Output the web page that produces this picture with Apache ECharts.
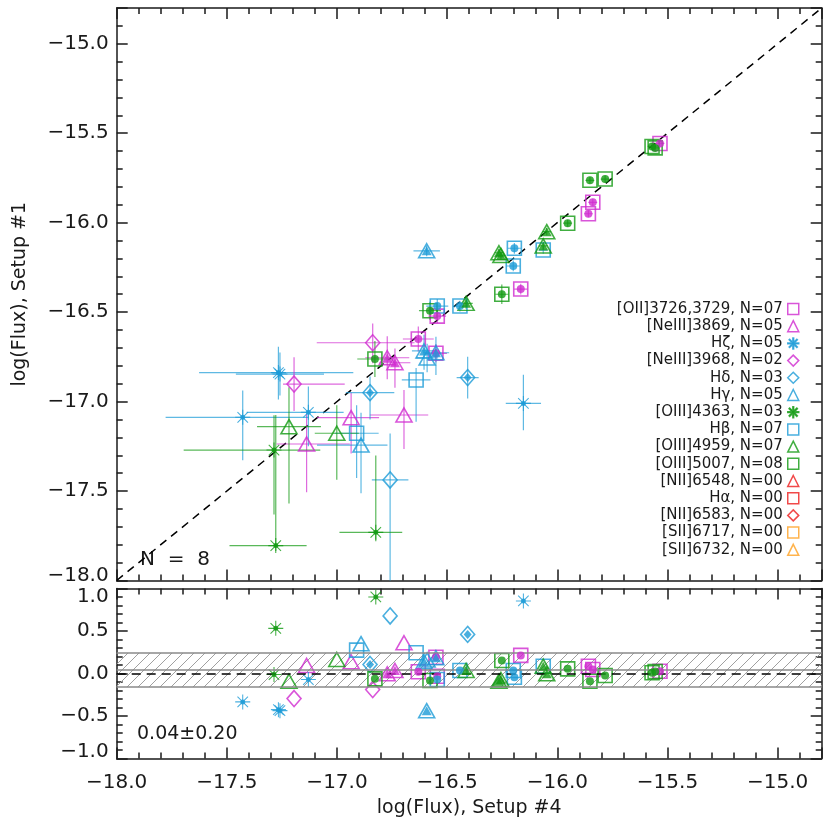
<!DOCTYPE html>
<html>
<head>
<meta charset="utf-8">
<script src="https://cdn.jsdelivr.net/npm/echarts@6/dist/echarts.min.js"></script>
<style>html,body{margin:0;background:#fff}#chart{width:830px;height:830px}</style>
</head>
<body>
<div id="chart"></div>
<script>
// axis ranges
const X_RANGE = [-18, -14.8];
const Y_RANGE = [-18, -14.8];
const R_RANGE = [-1, 1];

// residual band (mean +- sigma)
const bandMean = 0.04;
const bandSigma = 0.20;
const nObjects = 8;

// rows: [x (setup #4), y (setup #1), xErr-, xErr+, yErr-, yErr+, residual, filled]
const oii3727 = [
    [-15.534, -15.557, 0.02, 0.02, 0.02, 0.02, 0.027, 1],
    [-15.839, -15.886, 0.02, 0.02, 0.02, 0.02, 0.047, 1],
    [-15.859, -15.950, 0.02, 0.02, 0.02, 0.02, 0.086, 1],
    [-16.166, -16.371, 0.03, 0.03, 0.03, 0.03, 0.213, 1],
    [-16.545, -16.522, 0.04, 0.04, 0.04, 0.04, -0.032, 1],
    [-16.631, -16.650, 0.07, 0.07, 0.07, 0.07, 0.020, 1],
    [-16.551, -16.730, 0.05, 0.05, 0.05, 0.05, 0.192, 1]
];
const neiii3869 = [
    [-16.772, -16.755, 0.10, 0.10, 0.12, 0.12, -0.004, 1],
    [-16.737, -16.783, 0.07, 0.07, 0.14, 0.08, 0.035, 1],
    [-16.696, -17.075, 0.155, 0.11, 0.19, 0.14, 0.362, 0],
    [-16.936, -17.090, 0.155, 0.127, 0.20, 0.14, 0.138, 0],
    [-17.138, -17.237, 0.136, 0.196, 0.27, 0.17, 0.094, 0]
];
const hZeta = [
    [-17.266, -16.838, 0.36, 0.34, 0.15, 0.145, -0.425, 1],
    [-17.259, -16.846, 0.20, 0.20, 0.12, 0.12, -0.437, 1],
    [-17.428, -17.088, 0.35, 0.30, 0.24, 0.15, -0.334, 1],
    [-17.130, -17.060, 0.28, 0.16, 0.19, 0.145, -0.071, 1],
    [-16.154, -17.010, 0.08, 0.08, 0.15, 0.16, 0.854, 1]
];
const neiii3968 = [
    [-16.838, -16.671, 0.254, 0.19, 0.115, 0.107, -0.189, 0],
    [-17.195, -16.902, 0.05, 0.23, 0.15, 0.15, -0.295, 0]
];
const hDelta = [
    [-16.850, -16.950, 0.11, 0.11, 0.15, 0.09, 0.106, 1],
    [-16.407, -16.866, 0.05, 0.05, 0.117, 0.117, 0.460, 1],
    [-16.759, -17.438, 0.083, 0.083, 0.80, 0.26, 0.677, 0]
];
const hGamma = [
    [-16.593, -16.157, 0.06, 0.06, 0.03, 0.03, -0.437, 1],
    [-16.605, -16.717, 0.055, 0.055, 0.105, 0.09, 0.138, 1],
    [-16.551, -16.727, 0.06, 0.06, 0.125, 0.09, 0.185, 1],
    [-16.891, -17.243, 0.20, 0.12, 0.27, 0.18, 0.351, 0],
    [-16.591, -16.756, 0.05, 0.05, 0.08, 0.08, 0.160, 0]
];
const oiii4363 = [
    [-17.286, -17.271, 0.41, 0.21, 0.36, 0.195, -0.012, 1],
    [-17.278, -17.805, 0.21, 0.14, 0.03, 0.73, 0.531, 1],
    [-16.824, -17.731, 0.165, 0.12, 0.05, 0.43, 0.901, 1]
];
const hBeta = [
    [-16.195, -16.143, 0.03, 0.03, 0.03, 0.03, -0.044, 1],
    [-16.200, -16.242, 0.03, 0.03, 0.03, 0.03, 0.035, 1],
    [-16.064, -16.153, 0.02, 0.02, 0.02, 0.02, 0.086, 0],
    [-16.545, -16.466, 0.05, 0.05, 0.04, 0.04, -0.071, 1],
    [-16.442, -16.466, 0.03, 0.03, 0.03, 0.03, 0.035, 1],
    [-16.641, -16.879, 0.065, 0.065, 0.233, 0.067, 0.244, 0],
    [-16.911, -17.177, 0.10, 0.10, 0.25, 0.157, 0.275, 0]
];
const oiii4959 = [
    [-16.048, -16.050, 0.02, 0.02, 0.02, 0.02, -0.004, 1],
    [-16.064, -16.130, 0.02, 0.02, 0.02, 0.02, 0.086, 1],
    [-16.265, -16.168, 0.02, 0.02, 0.02, 0.02, -0.091, 1],
    [-16.256, -16.183, 0.02, 0.02, 0.02, 0.02, -0.071, 1],
    [-16.414, -16.451, 0.03, 0.03, 0.03, 0.03, 0.035, 1],
    [-17.001, -17.177, 0.10, 0.10, 0.26, 0.157, 0.165, 0],
    [-17.218, -17.140, 0.145, 0.145, 0.43, 0.22, -0.091, 0]
];
const oiii5007 = [
    [-15.570, -15.574, 0.02, 0.02, 0.02, 0.02, 0.008, 1],
    [-15.556, -15.582, 0.02, 0.02, 0.02, 0.02, 0.024, 1],
    [-15.852, -15.763, 0.02, 0.02, 0.02, 0.02, -0.091, 1],
    [-15.783, -15.756, 0.02, 0.02, 0.02, 0.02, -0.024, 1],
    [-15.953, -16.003, 0.02, 0.02, 0.02, 0.02, 0.055, 1],
    [-16.252, -16.400, 0.03, 0.03, 0.055, 0.055, 0.153, 1],
    [-16.578, -16.492, 0.05, 0.05, 0.05, 0.05, -0.083, 1],
    [-16.828, -16.762, 0.08, 0.08, 0.10, 0.10, -0.063, 1]
];

const lineNames = ['[OII]3726,3729', '[NeIII]3869', 'H\u03b6', '[NeIII]3968', 'H\u03b4', 'H\u03b3',
    '[OIII]4363', 'H\u03b2', '[OIII]4959', '[OIII]5007', '[NII]6548', 'H\u03b1', '[NII]6583',
    '[SII]6717', '[SII]6732'];
const lineData = [oii3727, neiii3869, hZeta, neiii3968, hDelta, hGamma, oiii4363, hBeta,
    oiii4959, oiii5007, [], [], [], [], []];

// styles
const MAG = '#d02ad0', BLUE = '#1b9bd7', GREEN = '#129a12', RED = '#ee1c1c', ORANGE = '#ffa020';
const lineColors = [MAG, MAG, BLUE, MAG, BLUE, BLUE, GREEN, BLUE, GREEN, GREEN, RED, RED, RED, ORANGE, ORANGE];
const lineShapes = ['square', 'triangle', 'star', 'diamond', 'diamond', 'triangle', 'star', 'square',
    'triangle', 'square', 'triangle', 'square', 'diamond', 'square', 'triangle'];

// asterisk: vertical, horizontal and two diagonal bars
const STAR = 'path://M46.5 0L53.5 0L53.5 100L46.5 100Z M0 46.5L100 46.5L100 53.5L0 53.5Z' +
    'M12.5 17.5L17.5 12.5L87.5 82.5L82.5 87.5Z M82.5 12.5L87.5 17.5L17.5 87.5L12.5 82.5Z';
const SHAPES = {
    square: { outer: 'rect', size: 14, inner: 'circle', innerSize: 8 },
    triangle: { outer: 'triangle', size: [16, 14], inner: 'triangle', innerSize: [10, 9] },
    diamond: { outer: 'diamond', size: [14, 16], inner: 'diamond', innerSize: [8, 9] },
    star: { outer: STAR, size: 15, inner: 'circle', innerSize: 5, solid: true }
};

const FONT = 'DejaVu Sans';
const INK = '#1a1a1a';

function fmtNum (v) {
    return (v < -1e-9 ? '\u2212' : '') + Math.abs(v).toFixed(1);
}
function isMajor (v) {
    return Math.abs(v * 2 - Math.round(v * 2)) < 1e-6;
}

function hatchPattern () {
    const c = document.createElement('canvas');
    c.width = 11; c.height = 11;
    const ctx = c.getContext('2d');
    ctx.strokeStyle = '#a0a0a0';
    ctx.lineWidth = 1;
    ctx.beginPath();
    ctx.moveTo(-1, 12); ctx.lineTo(12, -1);
    ctx.moveTo(-1, 1); ctx.lineTo(1, -1);
    ctx.moveTo(10, 12); ctx.lineTo(12, 10);
    ctx.stroke();
    return c;
}

// four axes per dimension per grid: major + minor on both sides
function makeAxes (dim, gridIndex, range, label, name, nameGap) {
    const sides = dim === 'x' ? ['bottom', 'top'] : ['left', 'right'];
    const lineStyle = { color: INK, width: 1.5 };
    const out = [];
    sides.forEach((pos, s) => {
        out.push({
            type: 'value', gridIndex: gridIndex, position: pos, min: range[0], max: range[1], interval: 0.5,
            axisLine: { show: true, onZero: false, lineStyle: lineStyle },
            axisTick: { show: true, inside: true, length: 11, lineStyle: lineStyle },
            splitLine: { show: false },
            axisLabel: s === 0 && label ? label : { show: false },
            name: s === 0 ? name : '',
            nameLocation: 'middle',
            nameGap: nameGap,
            nameTextStyle: { fontSize: 19, fontFamily: FONT, color: INK }
        });
        out.push({
            type: 'value', gridIndex: gridIndex, position: pos, min: range[0], max: range[1], interval: 0.1,
            axisLine: { show: false, onZero: false },
            axisTick: { show: true, inside: true, length: 6, lineStyle: lineStyle },
            splitLine: { show: false },
            axisLabel: { show: false }
        });
    });
    return out;
}

const labelBase = { show: true, fontSize: 20, fontFamily: FONT, color: INK, showMinLabel: true, showMaxLabel: true };
const richStyle = (pad) => ({ fontSize: 20, fontFamily: FONT, color: INK, padding: pad });

const xLabel = Object.assign({}, labelBase, {
    margin: 14,
    formatter: v => isMajor(v) ? fmtNum(v) : ''
});
const yTopLabel = Object.assign({}, labelBase, {
    margin: 8,
    rich: { lo: richStyle([0, 0, 10, 0]) },
    formatter: v => {
        if (!isMajor(v)) return '';
        if (Math.abs(v - Y_RANGE[0]) < 1e-6) return '{lo|' + fmtNum(v) + '}';
        return fmtNum(v);
    }
});
const yBotLabel = Object.assign({}, labelBase, {
    margin: 8,
    rich: { lo: richStyle([0, 0, 14, 0]), hi: richStyle([16, 0, 0, 0]) },
    formatter: v => {
        if (!isMajor(v)) return '';
        if (v >= R_RANGE[1] - 1e-6) return '{hi|' + fmtNum(v) + '}';
        if (v <= R_RANGE[0] + 1e-6) return '{lo|' + fmtNum(v) + '}';
        return fmtNum(v);
    }
});

function errRender (params, api) {
    const x = api.value(0), y = api.value(1);
    const l = api.coord([x - api.value(2), y]);
    const r = api.coord([x + api.value(3), y]);
    const b = api.coord([x, y - api.value(4)]);
    const t = api.coord([x, y + api.value(5)]);
    const style = { stroke: api.visual('color'), lineWidth: 1.2, opacity: 0.7 };
    return {
        type: 'group',
        children: [
            { type: 'line', shape: { x1: l[0], y1: l[1], x2: r[0], y2: r[1] }, style: style },
            { type: 'line', shape: { x1: b[0], y1: b[1], x2: t[0], y2: t[1] }, style: style }
        ]
    };
}

const series = [];
// residual band with mean / sigma lines and the zero line
series.push({
    type: 'line', xAxisIndex: 4, yAxisIndex: 4, data: [], z: 1, silent: true,
    markArea: {
        silent: true,
        itemStyle: { color: { image: hatchPattern(), repeat: 'repeat' }, opacity: 1, borderWidth: 0 },
        data: [[{ yAxis: bandMean + bandSigma }, { yAxis: bandMean - bandSigma }]]
    },
    markLine: {
        silent: true, symbol: ['none', 'none'], label: { show: false },
        lineStyle: { color: '#8a8a8a', width: 1.5, type: 'solid' },
        data: [
            { yAxis: bandMean + bandSigma },
            { yAxis: bandMean },
            { yAxis: bandMean - bandSigma },
            { yAxis: 0, lineStyle: { color: '#000', width: 1.5, type: [9, 6] } }
        ]
    }
});
// one-to-one line
series.push({
    type: 'line', xAxisIndex: 0, yAxisIndex: 0, symbol: 'none', silent: true, z: 2,
    lineStyle: { color: '#000', width: 1.5, type: [8, 6] },
    data: [[X_RANGE[0], X_RANGE[0]], [X_RANGE[1], X_RANGE[1]]]
});

lineNames.forEach((name, i) => {
    const rows = lineData[i];
    const col = lineColors[i];
    const sh = SHAPES[lineShapes[i]];
    const outline = {
        name: name, type: 'scatter', symbol: sh.outer, symbolSize: sh.size, silent: true, z: 4,
        itemStyle: sh.solid
            ? { color: col, borderColor: col, borderWidth: 0 }
            : { color: 'rgba(0,0,0,0)', borderColor: col, borderWidth: 1.6 }
    };
    const inner = {
        name: name, type: 'scatter', symbol: sh.inner, symbolSize: sh.innerSize, silent: true, z: 5,
        itemStyle: { color: col }
    };
    series.push(Object.assign({}, outline, { xAxisIndex: 0, yAxisIndex: 0, data: rows.map(r => [r[0], r[1]]) }));
    series.push(Object.assign({}, inner, { xAxisIndex: 0, yAxisIndex: 0, data: rows.filter(r => r[7]).map(r => [r[0], r[1]]) }));
    series.push(Object.assign({}, outline, { xAxisIndex: 4, yAxisIndex: 4, data: rows.map(r => [r[0], r[6]]) }));
    series.push(Object.assign({}, inner, { xAxisIndex: 4, yAxisIndex: 4, data: rows.filter(r => r[7]).map(r => [r[0], r[6]]) }));
    if (rows.length) {
        series.push({
            type: 'custom', xAxisIndex: 0, yAxisIndex: 0, clip: true, silent: true, z: 3,
            itemStyle: { color: col }, encode: { x: 0, y: 1 },
            renderItem: errRender,
            data: rows.map(r => r.slice(0, 6))
        });
    }
});

const chart = echarts.init(document.getElementById('chart'));
chart.setOption({
    animation: false,
    backgroundColor: '#fff',
    grid: [
        { left: 116.7, right: 8.3, top: 8, bottom: 249.5 },
        { left: 116.7, right: 8.3, top: 588.5, bottom: 71.5 }
    ],
    xAxis: [].concat(
        makeAxes('x', 0, X_RANGE, null, '', 0),
        makeAxes('x', 1, X_RANGE, xLabel, 'log(Flux), Setup #4', 40)
    ),
    yAxis: [].concat(
        makeAxes('y', 0, Y_RANGE, yTopLabel, 'log(Flux), Setup #1', 87),
        makeAxes('y', 1, R_RANGE, yBotLabel, '', 0)
    ),
    legend: {
        data: lineNames,
        orient: 'vertical',
        align: 'right',
        right: 30.5,
        top: 300.4,
        padding: 0,
        itemGap: 0,
        itemWidth: 11,
        itemHeight: 11,
        selectedMode: false,
        itemStyle: { borderWidth: 1.5 },
        textStyle: { fontSize: 15, fontFamily: FONT, color: INK, lineHeight: 17.2 },
        formatter: name => name + ', N=' + String(lineData[lineNames.indexOf(name)].length).padStart(2, '0')
    },
    graphic: [
        {
            type: 'text', left: 140, top: 550,
            style: { text: 'N  =  ' + nObjects, fontSize: 20, fontFamily: FONT, fill: INK }
        },
        {
            type: 'text', left: 137, top: 725,
            style: { text: bandMean.toFixed(2) + '\u00b1' + bandSigma.toFixed(2), fontSize: 19, fontFamily: FONT, fill: INK }
        }
    ],
    series: series
});
</script>
</body>
</html>
